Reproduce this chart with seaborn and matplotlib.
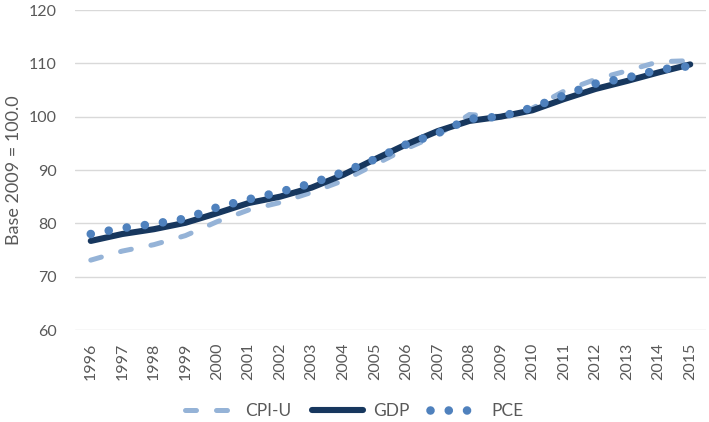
import matplotlib
matplotlib.use("Agg")
import matplotlib.pyplot as plt
import seaborn as sns
import pandas as pd

years = list(range(1996, 2016))
cpi_u = [73.1, 74.8, 76.0, 77.7, 80.3, 82.5, 83.9, 85.8, 88.0, 91.0,
         94.0, 96.6, 100.4, 100.0, 101.6, 104.8, 107.0, 108.6, 110.3, 110.5]
gdp = [76.7, 78.0, 78.9, 80.1, 81.9, 83.8, 85.0, 86.7, 89.1, 92.0,
       94.8, 97.3, 99.2, 100.0, 101.2, 103.3, 105.2, 106.7, 108.3, 109.8]
pce = [78.0, 79.1, 79.9, 80.9, 83.0, 84.5, 85.9, 87.5, 89.6, 92.0,
       94.8, 96.9, 99.6, 100.0, 101.7, 104.0, 106.2, 107.3, 108.8, 109.5]
series_names = ["CPI-U", "GDP", "PCE"]
ylabel = "Base 2009 = 100.0"

sns.set_theme(style="white")
plt.rcParams['font.family'] = ['Lato', 'DejaVu Sans']
text_color = "#595959"

fig = plt.figure(figsize=(7.09, 4.22), dpi=100)
ax = fig.add_axes([75/709, 1-330/422, (706-75)/709, (330-10)/422])

df = pd.DataFrame({"year": years, "CPI-U": cpi_u, "GDP": gdp, "PCE": pce})

styles = {
    "CPI-U": dict(color="#95b3d7", linewidth=3.6, linestyle=(0, (2.2, 4.0)),
                  dash_capstyle="round", zorder=2),
    "GDP": dict(color="#17375e", linewidth=4.4, solid_capstyle="round", zorder=3),
    "PCE": dict(color="#4f81bd", linewidth=6.2, linestyle=(0, (0.001, 2.12)),
                dash_capstyle="round", zorder=4),
}
for name in series_names:
    sns.lineplot(data=df, x="year", y=name, ax=ax, label=name, **styles[name])

ax.set_xlim(years[0] - 0.5, years[-1] + 0.5)
ax.set_ylim(60, 120)
ax.set_yticks(range(60, 121, 10))
ax.set_xticks(years)
ax.set_xticklabels([str(y) for y in years], rotation=90)
ax.grid(axis="y", color="#d9d9d9", linewidth=1.0)
ax.set_axisbelow(True)
for s in ax.spines.values():
    s.set_visible(False)
ax.tick_params(axis="both", length=0, labelsize=11.5, colors=text_color)
ax.tick_params(axis="y", pad=13)
ax.tick_params(axis="x", pad=9)
ax.set_xlabel("")
ax.set_ylabel(ylabel, fontsize=13, color=text_color, labelpad=5)

handles, labels = ax.get_legend_handles_labels()
leg = ax.legend(handles, labels, loc="center", bbox_to_anchor=(354/709, 1-411/422),
                bbox_transform=fig.transFigure, ncol=3, frameon=False,
                fontsize=12.5, handlelength=2.9, columnspacing=1.2, handletextpad=0.6)
for t in leg.get_texts():
    t.set_color(text_color)

fig.savefig("out.png", dpi=100)
